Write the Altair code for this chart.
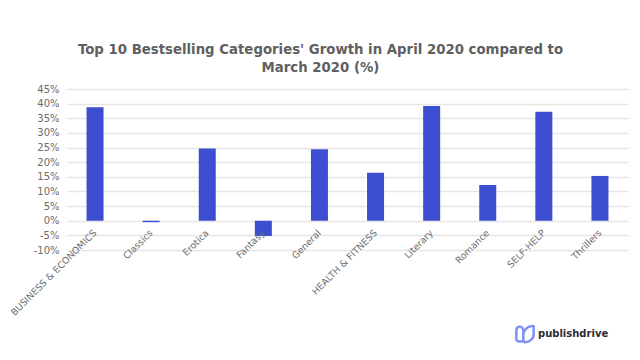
import altair as alt
import pandas as pd

categories = ["BUSINESS & ECONOMICS", "Classics", "Erotica", "Fantasy", "General",
              "HEALTH & FITNESS", "Literary", "Romance", "SELF-HELP", "Thrillers"]
growth = [38.8, -0.5, 24.7, -5.2, 24.4, 16.4, 39.2, 12.2, 37.2, 15.3]
y_ticks = [-10, -5, 0, 5, 10, 15, 20, 25, 30, 35, 40, 45]
title_lines = ["Top 10 Bestselling  Categories' Growth in April 2020 compared to", "March 2020 (%)"]
brand = ["publishdrive"]
FONT = "DejaVu Sans"

df = pd.DataFrame({"category": categories, "growth": growth})

bars = alt.Chart(df).mark_bar(color="#3D4FD1", size=17).encode(
    x=alt.X("category:N", sort=categories, title=None,
            scale=alt.Scale(paddingInner=0, paddingOuter=0),
            axis=alt.Axis(labelAngle=-45, labelAlign="right", labelBaseline="middle",
                          labelFont=FONT, labelFontSize=9.3, labelColor="#6b6b6b",
                          domain=False, ticks=False, grid=False, offset=-25,
                          labelPadding=6, zindex=1, labelOverlap=False, labelLimit=0)),
    y=alt.Y("growth:Q", title=None,
            scale=alt.Scale(domain=[-10, 45], nice=False),
            axis=alt.Axis(values=y_ticks, labelExpr="datum.value + '%'",
                          labelFont=FONT, labelFontSize=10, labelColor="#6b6b6b",
                          domain=False, ticks=False, gridColor="#e6e6e6", gridWidth=1.4,
                          labelPadding=8)),
)

logo_path = ("M-1,-0.4 C-1,-1 -0.2,-1 -0.2,-0.4 L-0.2,0.7 C-0.2,0.95 -1,0.95 -1,0.6 Z "
             "M-0.2,0.1 C-0.2,-0.4 0.3,-1 1,-0.9 L1,0 C1,0.6 0.5,0.95 0,0.95 C-0.2,0.95 -0.2,0.6 -0.2,0.1 Z")
logo = alt.Chart(pd.DataFrame({"a": [0]})).mark_point(
    shape=logo_path, size=300, filled=False, stroke="#4C63F0", strokeWidth=2.5, clip=False
).encode(x=alt.value(458), y=alt.value(245))

brand_text = alt.Chart(pd.DataFrame({"t": brand})).mark_text(
    font=FONT, fontSize=10, fontWeight="bold", color="#2b2b33", align="left", baseline="middle", clip=False
).encode(text="t:N", x=alt.value(471), y=alt.value(245))

chart = alt.layer(bars, logo, brand_text).properties(
    width=561, height=161,
    title=alt.TitleParams(text=title_lines, anchor="middle", dx=-27, offset=10,
                          font=FONT, fontSize=13.3, fontWeight="bold", color="#5f5f5f", lineHeight=18),
    autosize=alt.AutoSizeParams(type="none"),
    padding={"left": 59, "top": 81, "right": 4, "bottom": 100},
).configure_view(stroke=None)

chart.save("out.html", embed_options={"renderer": "svg", "actions": False})
